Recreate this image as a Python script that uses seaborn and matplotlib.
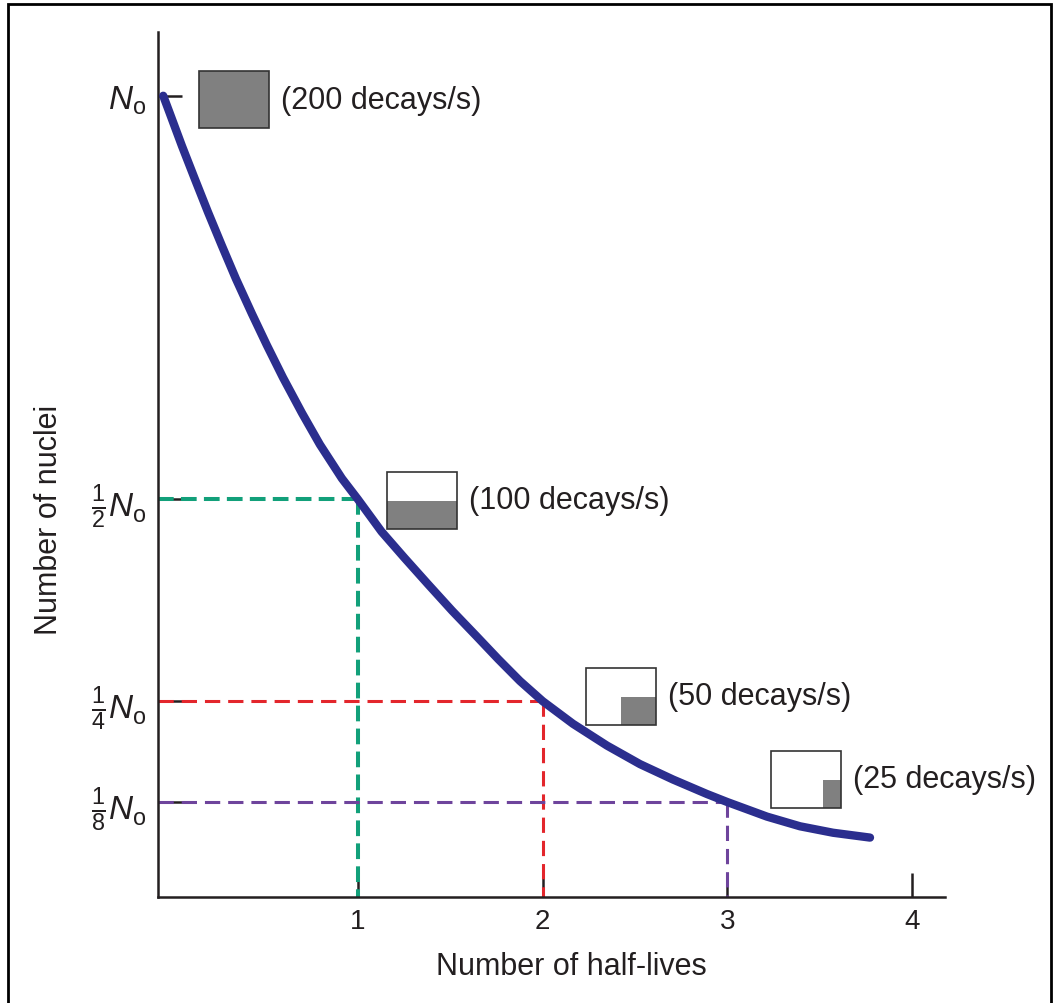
import numpy as np
import pandas as pd
import seaborn as sns
import matplotlib.pyplot as plt
from matplotlib.patches import Rectangle

# decay curve (x in half-lives, y as fraction of N0)
half_lives = [-0.054, -0.018, 0.047, 0.117, 0.188, 0.264, 0.340, 0.426, 0.507, 0.594,
              0.697, 0.794, 0.913, 1.0, 1.128, 1.25, 1.379, 1.51, 1.644, 1.76, 1.877,
              2.0, 2.164, 2.348, 2.527, 2.705, 2.889, 3.0, 3.214, 3.393, 3.572, 3.772]
nuclei = [1.0, 0.978, 0.938, 0.897, 0.856, 0.814, 0.773, 0.730, 0.691, 0.651,
          0.607, 0.568, 0.526, 0.5, 0.460, 0.428, 0.395, 0.362, 0.330, 0.302, 0.275,
          0.25, 0.222, 0.195, 0.172, 0.153, 0.135, 0.125, 0.107, 0.095, 0.087, 0.081]

# marked points
mark_x = [1, 2, 3]
mark_y = [0.5, 0.25, 0.125]
mark_colors = ['#12a07a', '#e3262c', '#6e449c']
mark_lw = [2.9, 2.2, 2.2]

# y tick labels
ytick_vals = [1, 0.5, 0.25, 0.125]
ytick_labels = [r'$N_{\mathrm{o}}$', r'$\frac{1}{2}N_{\mathrm{o}}$',
                r'$\frac{1}{4}N_{\mathrm{o}}$', r'$\frac{1}{8}N_{\mathrm{o}}$']
xtick_vals = [1, 2, 3, 4]

# activity boxes
rates = [200, 100, 50, 25]
fill_w = [1.0, 1.0, 0.5, 0.26]   # gray part width (fraction of box)
fill_h = [1.0, 0.5, 0.5, 0.5]    # gray part height (fraction of box)
box_px = [(199, 72), (387, 473), (586, 669), (771, 752)]  # top-left in pixels

sns.set_theme(style='white')
plt.rcParams['font.family'] = ['Liberation Sans', 'DejaVu Sans']
plt.rcParams['mathtext.fontset'] = 'custom'
plt.rcParams['mathtext.rm'] = 'Liberation Sans'
plt.rcParams['mathtext.it'] = 'Liberation Sans:italic'
plt.rcParams['mathtext.bf'] = 'Liberation Sans:bold'

W, H = 1056, 1004
fig = plt.figure(figsize=(W / 100, H / 100), dpi=100)
ax = fig.add_axes([157.5 / W, 1 - 898 / H, 787.5 / W, 865 / H])

xlo, xhi = -0.085, 4.178
ylo, yhi = 0.0074, 1.079

# dashed guides
for x, y, c, lw in zip(mark_x, mark_y, mark_colors, mark_lw):
    d = (3.9, 1.8) if lw > 2.5 else (5.0, 2.6)
    ax.plot([xlo, x], [y, y], color=c, lw=lw, dashes=d, zorder=1)
    ax.plot([x, x], [y, ylo], color=c, lw=lw, dashes=d, zorder=1)

df = pd.DataFrame({'half_lives': half_lives, 'nuclei': nuclei})
sns.lineplot(data=df, x='half_lives', y='nuclei', sort=False, ax=ax,
             color='#2b2e8e', lw=6, solid_capstyle='round', solid_joinstyle='round',
             zorder=3)

ax.set_xlim(xlo, xhi)
ax.set_ylim(ylo, yhi)
ax.set_xticks(xtick_vals)
ax.set_xticklabels([str(v) for v in xtick_vals])
ax.set_yticks(ytick_vals)
ax.set_yticklabels(ytick_labels)
ax.tick_params(axis='both', direction='in', length=17, width=1.8, color='#231f20',
               labelcolor='#231f20')
ax.tick_params(axis='x', labelsize=20, pad=8)
ax.tick_params(axis='y', labelsize=24, pad=8)
ax.tick_params(left=True, bottom=True)

for s in ['top', 'right']:
    ax.spines[s].set_visible(False)
for s in ['left', 'bottom']:
    ax.spines[s].set_color('#231f20')
    ax.spines[s].set_linewidth(1.8)

ax.set_xlabel('Number of half-lives', fontsize=22, color='#231f20')
ax.set_ylabel('Number of nuclei', fontsize=22, color='#231f20')
ax.xaxis.set_label_coords(0.525, -0.080)
ax.xaxis.label.set_va('center')
ax.yaxis.set_label_coords(-0.138, 0.437)
ax.yaxis.label.set_va('center')

# little boxes showing activity
bw, bh = 70, 57
for (px, py), r, fw, fh in zip(box_px, rates, fill_w, fill_h):
    x0, y0 = px / W, 1 - (py + bh) / H
    gw, gh = fw * bw / W, fh * bh / H
    fig.add_artist(Rectangle((x0 + bw / W - gw, y0), gw, gh, transform=fig.transFigure,
                             facecolor='#808080', edgecolor='none'))
    fig.add_artist(Rectangle((x0, y0), bw / W, bh / H, transform=fig.transFigure,
                             facecolor='none', edgecolor='#333333', lw=1.2))
    fig.text((px + bw + 12) / W, 1 - (py + bh / 2) / H, f'({r} decays/s)',
             fontsize=22, color='#231f20', ha='left', va='center')

# frame around the figure
fig.add_artist(Rectangle((8 / W, -0.01), (1051 - 8) / W, 1.01 - 5 / H,
                         transform=fig.transFigure, facecolor='none',
                         edgecolor='black', lw=2))

plt.savefig('out.png', dpi=100)
